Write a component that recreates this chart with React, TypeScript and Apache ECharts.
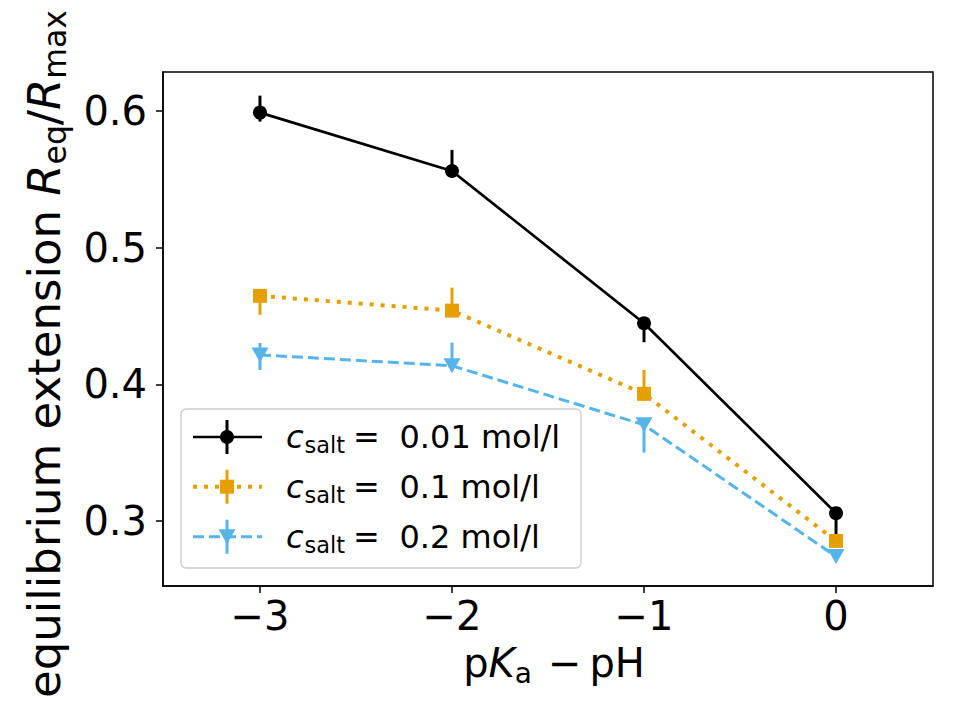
import React, { useEffect, useRef } from 'react';
import * as echarts from 'echarts';

const xValues = [-3, -2, -1, 0];
const xTicks = [-3, -2, -1, 0];
const yTicks = [0.3, 0.4, 0.5, 0.6];
const xRange = [-3.505, 0.505];
const yRange = [0.2524, 0.6285];

const legendLabels = ['0.01 mol/l', '0.1 mol/l', '0.2 mol/l'];

const blackY = [0.5988, 0.5561, 0.4447, 0.3057];
const blackLo = [0.5922, 0.553, 0.4308, 0.289];
const blackHi = [0.6112, 0.5715, 0.448, 0.31];

const orangeY = [0.4647, 0.4539, 0.393, 0.2854];
const orangeLo = [0.4508, 0.451, 0.388, 0.283];
const orangeHi = [0.467, 0.4707, 0.4105, 0.288];

const blueY = [0.4215, 0.4136, 0.3703, 0.274];
const blueLo = [0.4105, 0.41, 0.35, 0.271];
const blueHi = [0.4302, 0.4305, 0.373, 0.277];

const BLACK = '#000000';
const ORANGE = '#E69F00';
const BLUE = '#56B4E9';
const FONT = '"DejaVu Sans", sans-serif';

let ctx: CanvasRenderingContext2D | null = null;
function tw(text: string, fs: number, italic?: boolean): number {
  if (!ctx) ctx = document.createElement('canvas').getContext('2d');
  if (!ctx) return text.length * fs * 0.6;
  ctx.font = `${italic ? 'italic ' : ''}${fs}px ${FONT}`;
  return ctx.measureText(text).width;
}

type Piece = { t: string; it?: boolean; sub?: boolean; gap?: number };

// Lay out pieces along local x with baseline at local y = 0
function mathPieces(pieces: Piece[], fs: number, center: boolean) {
  const subFs = fs * 0.7;
  const drop = fs * 0.14;
  let x = 0;
  const items: any[] = [];
  pieces.forEach((p) => {
    x += p.gap || 0;
    const f = p.sub ? subFs : fs;
    const w = tw(p.t, f, p.it);
    items.push({
      type: 'text',
      style: {
        text: p.t,
        x,
        y: p.sub ? drop - 0.346 * f : -0.346 * f,
        font: `${p.it ? 'italic ' : ''}${f}px ${FONT}`,
        fontFamily: FONT,
        fontSize: f,
        fontStyle: p.it ? 'italic' : 'normal',
        fill: '#000',
        textAlign: 'left',
        align: 'left',
        textVerticalAlign: 'middle',
        verticalAlign: 'middle',
      },
    });
    x += w;
  });
  if (center) {
    items.forEach((it) => (it.style.x -= x / 2));
  }
  return items;
}

function txt(text: string, x: number, y: number, fs: number, italic?: boolean) {
  return {
    type: 'text',
    style: {
      text,
      x,
      y,
      font: `${italic ? 'italic ' : ''}${fs}px ${FONT}`,
      fontFamily: FONT,
      fontSize: fs,
      fontStyle: italic ? 'italic' : 'normal',
      fill: '#000',
      textAlign: 'left',
      align: 'left',
      textVerticalAlign: 'middle',
      verticalAlign: 'middle',
    },
  };
}

function errorSeries(lo: number[], hi: number[], color: string, z: number) {
  return {
    type: 'custom',
    z,
    silent: true,
    data: xValues.map((x, i) => [x, lo[i], hi[i]]),
    encode: { x: 0, y: [1, 2] },
    renderItem: (_p: any, api: any) => {
      const x = api.value(0);
      const a = api.coord([x, api.value(1)]);
      const b = api.coord([x, api.value(2)]);
      return {
        type: 'line',
        shape: { x1: a[0], y1: a[1], x2: b[0], y2: b[1] },
        style: { stroke: color, lineWidth: 3 },
      };
    },
  };
}

function legendRow(i: number, cy: number) {
  const color = [BLACK, ORANGE, BLUE][i];
  const children: any[] = [];
  const lineStyle: any = { stroke: color, lineWidth: [2.7, 4, 3][i] };
  if (i === 1) lineStyle.lineDash = [4, 7];
  if (i === 2) lineStyle.lineDash = [11, 5];
  children.push({ type: 'line', shape: { x1: 193, y1: cy, x2: 262, y2: cy }, style: lineStyle });
  children.push({ type: 'line', shape: { x1: 227, y1: cy - 17, x2: 227, y2: cy + 17 }, style: { stroke: color, lineWidth: 3 } });
  if (i === 0) children.push({ type: 'circle', shape: { cx: 227, cy, r: 7 }, style: { fill: color } });
  if (i === 1) children.push({ type: 'rect', shape: { x: 220, y: cy - 7, width: 14, height: 14 }, style: { fill: color } });
  if (i === 2)
    children.push({
      type: 'polygon',
      shape: { points: [[218.5, cy - 7.5], [235.5, cy - 7.5], [227, cy + 7.5]] },
      style: { fill: color },
    });
  const base = cy + 11.3;
  const fs = 32;
  children.push(txt('c', 286, base - 0.346 * fs, fs, true));
  children.push(txt('salt', 304.5, base + 4.4 - 0.346 * 22.5, 22.5));
  children.push(txt('=', 353, base - 0.346 * fs, fs));
  children.push(txt(legendLabels[i], 399.5, base - 0.346 * fs, fs));
  return children;
}

export default function App() {
  const ref = useRef<HTMLDivElement>(null);
  useEffect(() => {
    if (!ref.current) return;
    const chart = echarts.init(ref.current, undefined, { renderer: 'svg' });

    const axisCommon = {
      axisLine: { show: true, onZero: false, lineStyle: { color: '#000', width: 1.5 } },
      axisTick: { show: true, inside: false, length: 7, lineStyle: { color: '#000', width: 1.5 } },
      splitLine: { show: false },
    };

    const option: any = {
      animation: false,
      backgroundColor: '#ffffff',
      grid: {
        left: 163,
        top: 72,
        width: 770,
        height: 514,
        show: true,
        borderColor: '#000',
        borderWidth: 1.5,
        backgroundColor: 'transparent',
      },
      xAxis: {
        type: 'value',
        min: xRange[0],
        max: xRange[1],
        ...axisCommon,
        axisTick: { ...axisCommon.axisTick, customValues: xTicks },
        axisLabel: {
          customValues: xTicks,
          fontSize: 40,
          fontFamily: FONT,
          color: '#000',
          margin: 10,
          formatter: (v: number) => (v < 0 ? '\u2212' + Math.abs(v) : String(v)),
        },
      },
      yAxis: {
        type: 'value',
        min: yRange[0],
        max: yRange[1],
        ...axisCommon,
        axisTick: { ...axisCommon.axisTick, customValues: yTicks },
        axisLabel: {
          customValues: yTicks,
          fontSize: 40,
          fontFamily: FONT,
          color: '#000',
          margin: 16,
          formatter: (v: number) => v.toFixed(1),
        },
      },
      series: [
        errorSeries(blackLo, blackHi, BLACK, 2),
        {
          type: 'line',
          name: legendLabels[0],
          z: 2,
          data: xValues.map((x, i) => [x, blackY[i]]),
          symbol: 'circle',
          symbolSize: 14,
          itemStyle: { color: BLACK, borderWidth: 0 },
          lineStyle: { color: BLACK, width: 2.7 },
        },
        errorSeries(blueLo, blueHi, BLUE, 3),
        {
          type: 'line',
          name: legendLabels[2],
          z: 3,
          data: xValues.map((x, i) => [x, blueY[i]]),
          symbol: 'triangle',
          symbolRotate: 180,
          symbolSize: [17, 15],
          itemStyle: { color: BLUE, borderWidth: 0 },
          lineStyle: { color: BLUE, width: 3, type: [11, 5] },
        },
        errorSeries(orangeLo, orangeHi, ORANGE, 4),
        {
          type: 'line',
          name: legendLabels[1],
          z: 4,
          data: xValues.map((x, i) => [x, orangeY[i]]),
          symbol: 'rect',
          symbolSize: 14,
          itemStyle: { color: ORANGE, borderWidth: 0 },
          lineStyle: { color: ORANGE, width: 4, type: [4, 7] },
        },
      ],
      graphic: [
        {
          type: 'group',
          z: 100,
          children: [
            {
              type: 'rect',
              shape: { x: 181, y: 409, width: 400, height: 159, r: 5 },
              style: { fill: 'rgba(255,255,255,0.8)', stroke: '#cccccc', lineWidth: 1.3 },
            },
            ...legendRow(0, 437),
            ...legendRow(1, 486.7),
            ...legendRow(2, 536.7),
          ],
        },
        {
          type: 'group',
          x: 554,
          y: 677.3,
          children: mathPieces(
            [
              { t: 'p' },
              { t: 'K', it: true },
              { t: 'a', sub: true },
              { t: '\u2212', gap: 16 },
              { t: 'pH', gap: 8 },
            ],
            40,
            true
          ),
        },
        {
          type: 'group',
          x: 60,
          y: 354,
          rotation: Math.PI / 2,
          children: mathPieces(
            [
              { t: 'equilibrium extension ' },
              { t: 'R', it: true },
              { t: 'eq', sub: true },
              { t: '/' },
              { t: 'R', it: true },
              { t: 'max', sub: true },
            ],
            45,
            true
          ),
        },
      ],
    };
    chart.setOption(option);
    return () => chart.dispose();
  }, []);
  return <div ref={ref} style={{ width: 960, height: 720, margin: -8 }} />;
}
